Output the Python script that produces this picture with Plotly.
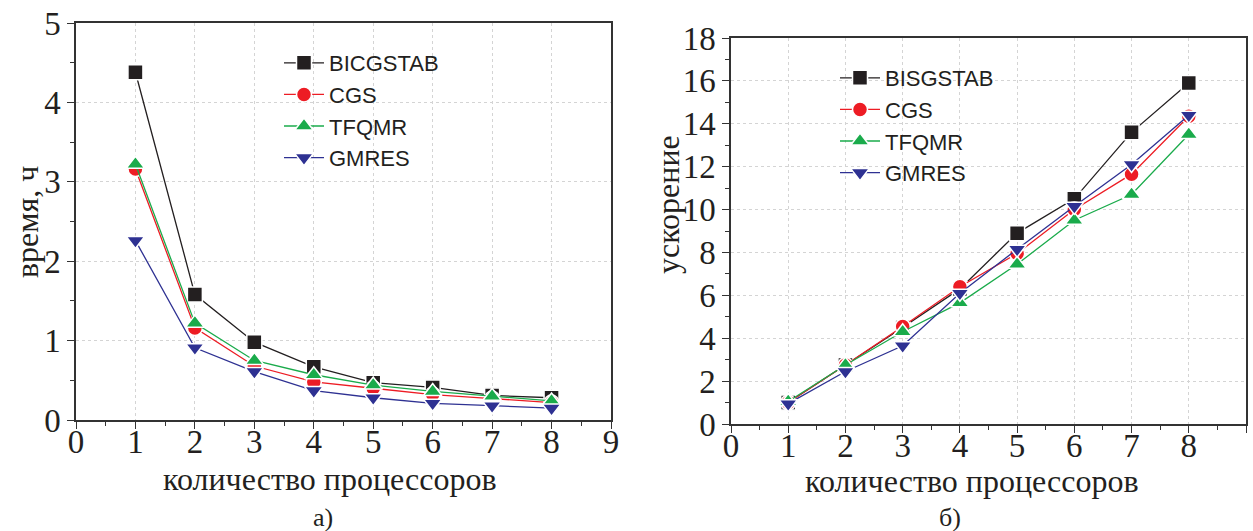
import plotly.graph_objects as go

procs = [1, 2, 3, 4, 5, 6, 7, 8]

# Left panel: time, hours
time_bicgstab = [4.38, 1.58, 0.98, 0.67, 0.47, 0.41, 0.31, 0.28]
time_cgs = [3.16, 1.16, 0.68, 0.48, 0.40, 0.32, 0.27, 0.22]
time_tfqmr = [3.22, 1.22, 0.75, 0.57, 0.44, 0.36, 0.30, 0.24]
time_gmres = [2.26, 0.91, 0.61, 0.37, 0.28, 0.21, 0.18, 0.15]

# Right panel: speedup
sp_bisgstab = [1.0, 2.75, 4.5, 6.3, 8.9, 10.5, 13.6, 15.9]
sp_cgs = [1.0, 2.75, 4.55, 6.4, 7.95, 10.0, 11.65, 14.35]
sp_tfqmr = [1.05, 2.75, 4.3, 5.65, 7.45, 9.5, 10.7, 13.5]
sp_gmres = [0.95, 2.45, 3.65, 6.1, 8.15, 10.15, 12.1, 14.4]

names_left = ["BICGSTAB", "CGS", "TFQMR", "GMRES"]
names_right = ["BISGSTAB", "CGS", "TFQMR", "GMRES"]
colors = ["#231f20", "#ed1c24", "#1aab4b", "#2e3192"]
symbols = ["square", "circle", "triangle-up", "triangle-down"]
sizes = [15, 15, 16, 16]

left_series = [time_bicgstab, time_cgs, time_tfqmr, time_gmres]
right_series = [sp_bisgstab, sp_cgs, sp_tfqmr, sp_gmres]

fig = go.Figure()
for i in range(4):
    fig.add_trace(go.Scatter(
        x=procs, y=left_series[i], name=names_left[i], mode="lines+markers",
        line=dict(color=colors[i], width=1.3),
        marker=dict(symbol=symbols[i], size=sizes[i], color=colors[i],
                    line=dict(color="white", width=1.5)),
        xaxis="x", yaxis="y", legend="legend"))
for i in range(4):
    fig.add_trace(go.Scatter(
        x=procs, y=right_series[i], name=names_right[i], mode="lines+markers",
        line=dict(color=colors[i], width=1.3),
        marker=dict(symbol=symbols[i], size=sizes[i], color=colors[i],
                    line=dict(color="white", width=1.5)),
        xaxis="x2", yaxis="y2", legend="legend2"))

W, H = 1253, 531
def px(x):
    return x / W
def py(y):
    return (H - y) / H

tickfont = dict(family="Liberation Serif", size=33, color="#231f20")
axis_common = dict(
    showline=True, linecolor="#333333", linewidth=1.5, mirror=True,
    ticks="outside", ticklen=7, tickwidth=1.3, tickcolor="#333333",
    showgrid=True, gridcolor="#d4d4d4", griddash="dot", gridwidth=1,
    zeroline=False, tickfont=tickfont, automargin=False,
)
minor_common = dict(ticks="outside", ticklen=4, tickcolor="#333333", showgrid=False)

fig.update_layout(
    width=W, height=H, margin=dict(l=0, r=0, t=0, b=0, autoexpand=False),
    paper_bgcolor="white", plot_bgcolor="white",
    xaxis=dict(domain=[px(76), px(611)], range=[0, 9], dtick=1, anchor="y",
               ticklabelstandoff=-15,
               minor=dict(dtick=0.5, **minor_common), **axis_common),
    yaxis=dict(domain=[py(420), py(23)], range=[0, 5], dtick=1, anchor="x",
               minor=dict(dtick=0.5, **minor_common), **axis_common),
    xaxis2=dict(domain=[px(731), px(1246)], range=[0, 9], dtick=1, anchor="y2",
                ticklabelstandoff=-15,
                minor=dict(dtick=0.5, **minor_common), **axis_common),
    yaxis2=dict(domain=[py(424), py(38)], range=[0, 18], dtick=2, anchor="x2",
                minor=dict(dtick=1, **minor_common), **axis_common),
    legend=dict(x=px(279), y=py(42), xanchor="left", yanchor="top",
                font=dict(family="Liberation Sans", size=22, color="#231f20"),
                bgcolor="rgba(0,0,0,0)", tracegroupgap=0, itemwidth=40),
    legend2=dict(x=px(835), y=py(57), xanchor="left", yanchor="top",
                 font=dict(family="Liberation Sans", size=22, color="#231f20"),
                 bgcolor="rgba(0,0,0,0)", tracegroupgap=0, itemwidth=40),
    showlegend=True,
)

title_font = dict(family="Liberation Serif", size=32, color="#231f20")
annotations = [
    dict(text="количество процессоров", x=px(330), y=py(479), xref="paper", yref="paper",
         showarrow=False, font=title_font, xanchor="center", yanchor="middle"),
    dict(text="количество процессоров", x=px(972), y=py(481), xref="paper", yref="paper",
         showarrow=False, font=title_font, xanchor="center", yanchor="middle"),
    dict(text="время, ч", x=px(27), y=py(222), xref="paper", yref="paper", textangle=-90,
         showarrow=False, font=title_font, xanchor="center", yanchor="middle"),
    dict(text="ускорение", x=px(668), y=py(205), xref="paper", yref="paper", textangle=-90,
         showarrow=False, font=title_font, xanchor="center", yanchor="middle"),
    dict(text="а)", x=px(323), y=py(517), xref="paper", yref="paper",
         showarrow=False, font=dict(family="Liberation Serif", size=26, color="#231f20"),
         xanchor="center", yanchor="middle"),
    dict(text="б)", x=px(950), y=py(517), xref="paper", yref="paper",
         showarrow=False, font=dict(family="Liberation Serif", size=26, color="#231f20"),
         xanchor="center", yanchor="middle"),
]
fig.update_layout(annotations=annotations)

fig.write_html("out.html", config={"displayModeBar": False},
               post_script="document.body.style.margin='0';document.body.style.overflow='hidden';")
